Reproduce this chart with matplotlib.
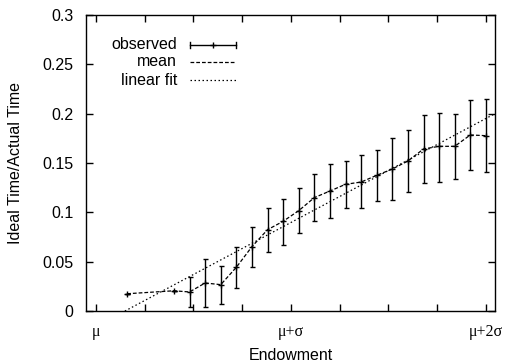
import matplotlib
matplotlib.use("Agg")
import matplotlib.pyplot as plt
import numpy as np

# endowment in units of sigma above the mean (mu = 0)
endow = [0.16, 0.40, 0.48, 0.56, 0.64, 0.72, 0.80, 0.88, 0.96, 1.04, 1.12, 1.20,
         1.28, 1.36, 1.44, 1.52, 1.60, 1.68, 1.76, 1.84, 1.92, 2.00]
ratio = [0.0175, 0.0205, 0.0193, 0.0284, 0.0267, 0.0443, 0.0652, 0.0824, 0.0909, 0.1017,
         0.1149, 0.1216, 0.1284, 0.1307, 0.1375, 0.1439, 0.1520, 0.1642, 0.1669, 0.1669,
         0.1784, 0.1777]
err_lo = [0.0175, 0.0205, 0.0044, 0.0037, 0.0074, 0.0233, 0.0443, 0.0598, 0.0666, 0.0787,
          0.0909, 0.0939, 0.1040, 0.1040, 0.1115, 0.1122, 0.1203, 0.1300, 0.1310, 0.1338,
          0.1432, 0.1409]
err_hi = [0.0175, 0.0205, 0.0348, 0.0530, 0.0453, 0.0645, 0.0855, 0.1047, 0.1139, 0.1250,
          0.1389, 0.1490, 0.1524, 0.1578, 0.1635, 0.1753, 0.1838, 0.1983, 0.2010, 0.1997,
          0.2139, 0.2145]
fit_slope = 0.1054
fit_intercept = -0.0157

xtick_pos = [0, 1, 2]
xtick_labels = ["\u03bc", "\u03bc+\u03c3", "\u03bc+2\u03c3"]

plt.rcParams['font.family'] = ['Liberation Sans', 'DejaVu Sans']
plt.rcParams['font.size'] = 11.5

fig = plt.figure(figsize=(5.06, 3.64), dpi=100)
ax = fig.add_axes([0.170, 0.1456, 0.808, 0.8132])

x = np.array(endow)
y = np.array(ratio)
yerr = np.vstack([y - np.array(err_lo), np.array(err_hi) - y])

xlim = (-0.051, 2.046)
ax.set_xlim(*xlim)
ax.set_ylim(0, 0.3)

# linear fit across whole range
xf = np.array(xlim)
ax.plot(xf, fit_slope * xf + fit_intercept, color='black', lw=0.9,
        linestyle=(0, (1.2, 2.0)), clip_on=True)

# observed with error bars
ax.errorbar(x, y, yerr=yerr, fmt='none', ecolor='black', elinewidth=1.0,
            capsize=1.8, capthick=1.0)
ax.plot(x, y, linestyle='none', marker='+', color='black', markersize=4, mew=1.0)
# mean
ax.plot(x, y, color='black', lw=0.9, linestyle=(0, (3.0, 1.6)))

# gnuplot-style legend drawn by hand
tx, l0, l1 = 0.2225, 0.254, 0.366
rows = [0.899, 0.842, 0.780]
names = ["observed", "mean", "linear fit"]
for r, n in zip(rows, names):
    ax.text(tx, r, n, transform=ax.transAxes, ha='right', va='center')
ax.plot([l0, l1], [rows[0]] * 2, transform=ax.transAxes, color='black', lw=1.0)
ax.plot([l0, l0], [rows[0] - 0.01, rows[0] + 0.01], transform=ax.transAxes, color='black', lw=1.0)
ax.plot([l1, l1], [rows[0] - 0.01, rows[0] + 0.01], transform=ax.transAxes, color='black', lw=1.0)
ax.plot([(l0 + l1) / 2], [rows[0]], transform=ax.transAxes, marker='+', color='black', markersize=4, mew=1.0)
ax.plot([l0, l1], [rows[1]] * 2, transform=ax.transAxes, color='black', lw=0.9, linestyle=(0, (3.0, 1.6)))
ax.plot([l0, l1], [rows[2]] * 2, transform=ax.transAxes, color='black', lw=0.9, linestyle=(0, (1.2, 2.0)))

ticks = np.arange(0, 2.01, 0.25)
ax.set_xticks(ticks)
ax.set_xticklabels([xtick_labels[xtick_pos.index(int(t))] if t in xtick_pos else "" for t in ticks],
                   family=['Liberation Serif', 'DejaVu Serif'])
ax.set_yticks(np.arange(0, 0.301, 0.05))
ax.set_yticklabels(["0", "0.05", "0.1", "0.15", "0.2", "0.25", "0.3"])
ax.tick_params(direction='in', length=5, width=1.0, top=True, right=True)
ax.tick_params(axis='y', pad=9)
ax.tick_params(axis='x', pad=9)
for s in ax.spines.values():
    s.set_linewidth(1.0)

ax.set_xlabel("Endowment", labelpad=6)
ax.set_ylabel("Ideal Time/Actual Time", labelpad=14)

fig.savefig("out.png", dpi=100)
